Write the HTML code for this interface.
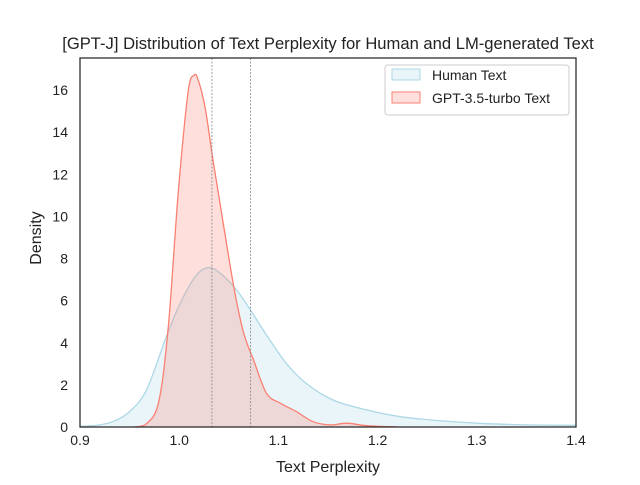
<!DOCTYPE html>
<html><head><meta charset="utf-8"><style>
body{margin:0;background:#fff;font-family:"Liberation Sans","DejaVu Sans",sans-serif}
svg text{font-family:"Liberation Sans","DejaVu Sans",sans-serif;fill:#222}
</style></head><body>
<svg id="c" width="640" height="480"></svg>
<script>
const xTicks=[0.9,1.0,1.1,1.2,1.3,1.4];
const yTicks=[0,2,4,6,8,10,12,14,16];
const humanX=[0.88,0.913,0.933,0.95,0.967,0.987,1.001,1.016,1.026,1.034,1.044,1.058,1.073,1.088,1.108,1.128,1.155,1.189,1.223,1.25,1.3,1.35,1.4];
const humanY=[0,0.06,0.25,0.73,1.76,4.29,5.87,7.13,7.53,7.53,7.2,6.5,5.47,4.37,3.02,2.07,1.28,0.81,0.49,0.35,0.18,0.1,0.08];
const gptX=[0.955,0.9655,0.979,0.989,0.999,1.009,1.015,1.019,1.026,1.034,1.044,1.055,1.065,1.075,1.088,1.102,1.118,1.135,1.152,1.169,1.189,1.22];
const gptY=[0,0.1,1.13,4.76,11.1,15.9,16.7,16.5,15.2,12.7,9.8,6.66,4.46,3.18,1.6,1.13,0.73,0.25,0.1,0.18,0.06,0];
const vLines=[1.033,1.072];
const L=80,R=576,T=58,B=427;
const sx=v=>L+(v-0.9)/0.5*(R-L);
const sy=v=>B-v*21.06;
const svg=document.getElementById('c');const NS='http://www.w3.org/2000/svg';
function mk(t,a,p){const e=document.createElementNS(NS,t);for(const k in a)e.setAttribute(k,a[k]);(p||svg).appendChild(e);return e;}
const defs=mk('clipPath',{id:'clip'});mk('rect',{x:L,y:T,width:R-L,height:B-T},defs);
const g=mk('g',{'clip-path':'url(#clip)'});
function smooth(xs,ys){
 const P=xs.map((x,i)=>[sx(x),sy(ys[i])]);
 let d='M'+P[0][0].toFixed(1)+','+P[0][1].toFixed(1);
 for(let i=0;i<P.length-1;i++){
  const p0=P[Math.max(0,i-1)],p1=P[i],p2=P[i+1],p3=P[Math.min(P.length-1,i+2)];
  const c1=[p1[0]+(p2[0]-p0[0])/6,Math.min(B,p1[1]+(p2[1]-p0[1])/6)];
  const c2=[p2[0]-(p3[0]-p1[0])/6,Math.min(B,p2[1]-(p3[1]-p1[1])/6)];
  d+=`C${c1[0].toFixed(1)},${c1[1].toFixed(1)} ${c2[0].toFixed(1)},${c2[1].toFixed(1)} ${p2[0].toFixed(1)},${p2[1].toFixed(1)}`;
 }
 return d;
}
function series(xs,ys,col,name){
 const d=smooth(xs,ys);
 const f=mk('path',{d:d+`L${sx(xs[xs.length-1])},${B}L${sx(xs[0])},${B}Z`,fill:col,'fill-opacity':0.25,stroke:'none'},g);
 
 const l=mk('path',{d:d,fill:'none',stroke:col,'stroke-width':1.3},g);
 
}
series(humanX,humanY,'#add8e6','human-text');
series(gptX,gptY,'#fa8072','gpt-text');
vLines.forEach(v=>{const e=mk('line',{x1:sx(v),x2:sx(v),y1:T,y2:B,stroke:'#888','stroke-width':0.8,'stroke-dasharray':'2,1.5'});
 });
const fr=mk('rect',{x:L,y:T,width:R-L,height:B-T,fill:'none',stroke:'#262626','stroke-width':1.25});

xTicks.forEach(v=>{const t=mk('text',{x:sx(v),y:B+18,'text-anchor':'middle','font-size':14});t.textContent=v.toFixed(1);
 });
yTicks.forEach(v=>{const t=mk('text',{x:L-12,y:sy(v)+5,'text-anchor':'end','font-size':14});t.textContent=v;
 });
let t=mk('text',{x:328,y:472,'text-anchor':'middle','font-size':16});t.textContent='Text Perplexity';

t=mk('text',{x:41,y:238,'text-anchor':'middle','font-size':16,transform:'rotate(-90 41 238)'});t.textContent='Density';

t=mk('text',{x:328,y:49,'text-anchor':'middle','font-size':16.6});t.textContent='[GPT-J] Distribution of Text Perplexity for Human and LM-generated Text';

const lg=mk('g',{});
mk('rect',{x:385,y:65,width:184,height:50,rx:3,fill:'#fff','fill-opacity':0.8,stroke:'#ccc'},lg);
[['Human Text','#add8e6',75],['GPT-3.5-turbo Text','#fa8072',98]].forEach(([n,c,y])=>{
 const r=mk('rect',{x:392,y:y-6,width:28,height:11,fill:c,'fill-opacity':0.25,stroke:c},lg);
 
 const tt=mk('text',{x:432,y:y+5,'font-size':14},lg);tt.textContent=n;
 
});
</script>
</body></html>
